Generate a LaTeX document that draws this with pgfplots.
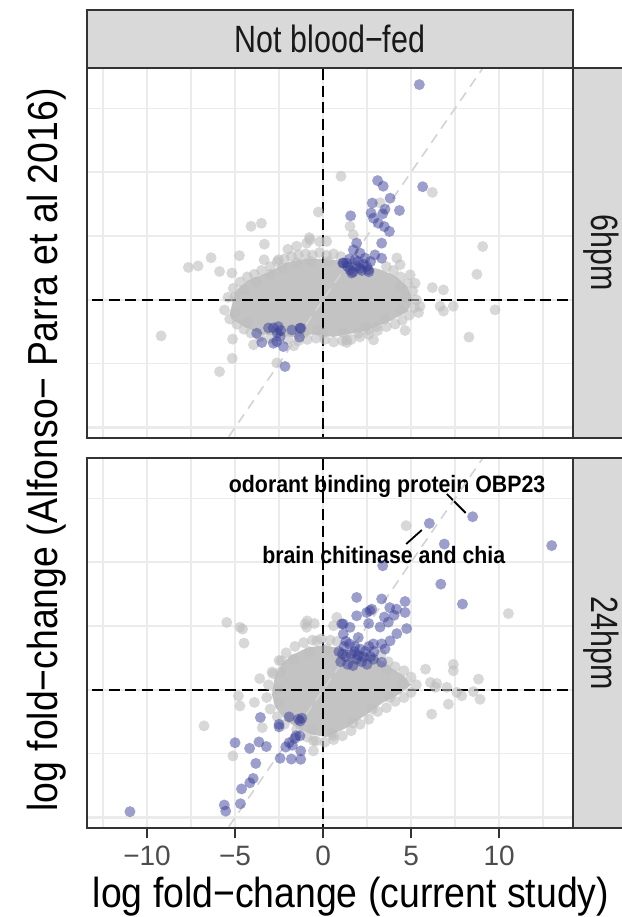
\documentclass[border=0pt]{standalone}
\usepackage{pgfplots}
\pgfplotsset{compat=1.18}
\usepackage{fontspec}
\setmainfont{Liberation Sans}
\newfontfamily\titlefont{Liberation Sans}[FakeStretch=0.89]
\newfontfamily\stripfont{Liberation Sans}[FakeStretch=0.8]
\newfontfamily\annfont{Liberation Sans}[FakeStretch=0.9]
\definecolor{gridc}{HTML}{EBEBEB}
\definecolor{bord}{HTML}{333333}
\definecolor{stripc}{HTML}{D9D9D9}
\definecolor{ptgrey}{HTML}{BEBEBE}
\definecolor{coregrey}{HTML}{C3C3C3}
\definecolor{ptblue}{RGB}{58,64,152}
\definecolor{diagc}{HTML}{D3D3D3}
\definecolor{tickc}{HTML}{4D4D4D}
\pgfplotsset{
  panel/.style={scale only axis, width=243pt, height=185pt, anchor=south west,
    xmin=-13.41, xmax=14.2, ymin=-5.41, ymax=9.08,
    xtick={-10,-5,0,5,10}, minor xtick={-12.5,-7.5,-2.5,2.5,7.5,12.5},
    ytick={-5,0,5}, minor ytick={-2.5,2.5,7.5},
    yticklabels={}, grid=both,
    major grid style={gridc, line width=1.3pt},
    minor grid style={gridc, line width=0.65pt},
    axis line style={draw=none},
    ytick style={draw=none}, minor tick length=0pt, clip=true},
  greypt/.style={only marks, mark=*, mark size=2.75pt, color=ptgrey, mark options={fill=ptgrey, fill opacity=0.6, draw opacity=0}},
  bluept/.style={only marks, mark=*, mark size=2.75pt, color=ptblue, mark options={fill=ptblue, fill opacity=0.5, draw opacity=0}},
  core/.style={fill=coregrey, draw=none, mark=none},
  zeroline/.style={black, line width=1pt, dash pattern=on 5.5pt off 2.8pt, mark=none},
  diagline/.style={diagc, line width=0.8pt, dash pattern=on 5pt off 3.5pt, mark=none},
}
\begin{document}
\begin{tikzpicture}
% ---------- top panel: 6hpm ----------
\begin{axis}[panel, at={(43.5pt,239.5pt)}, xticklabels={}, xtick style={draw=none}]
\addplot[core] coordinates {(-5.3,-0.55) (-5.0,0.3) (-4.3,0.75) (-3.2,1.05) (-2.1,1.45) (-1.1,1.6) (0,1.6) (0.8,1.55) (1.6,1.45) (3.2,1.2) (4.1,0.95) (4.8,0.5) (5.1,0.0) (4.8,-0.45) (3.9,-0.8) (2.5,-1.2) (0.6,-1.45) (-0.6,-1.35) (-1.7,-1.45) (-3.5,-1.35) (-4.6,-1.0) (-5.2,-0.75)} -- cycle;
\addplot[greypt] coordinates {
(1.02,4.84) (-0.27,3.44) (-4.09,2.88) (-3.5,3.0) (-3.33,2.18) (-0.78,2.44) (-0.19,2.28) (-2.0,1.98) (-1.5,2.1) (-4.75,1.73) (-6.36,1.65) (-7.65,1.27) (-7.1,1.33) (-5.88,1.11) (-5.18,1.05) (-3.35,1.57) (-2.53,1.57) (-9.2,-1.41) (-5.88,-2.81) (-5.16,-2.29) (-5.14,-1.54) (-3.95,-1.76) (-2.63,-2.47) (1.35,-1.67) (2.87,-1.57) (-0.33,-1.18) (-1.66,-1.8)
(6.21,4.21) (9.07,2.09) (8.74,1.0) (6.21,0.48) (6.84,0.39) (6.65,-0.25) (7.4,-0.25) (6.84,-0.44) (9.77,-0.39) (8.29,-1.46) (5.51,-0.25) (5.42,-0.5) (4.66,-1.2) (4.19,1.64) (4.38,1.38) (4.95,0.98) (5.23,0.65) (3.24,3.8) (1.53,2.88) (1.72,2.55) (-0.93,2.22) (-0.74,2.35) (0.21,2.29) (1.34,-1.57) (2.01,-1.31) (3.05,-1.05) (2.58,-1.18)
(-5.6,-0.4) (-5.4,0.1) (-5.1,0.45) (-4.7,0.7) (-4.3,0.9) (-3.9,1.0) (-3.5,1.15) (-3.0,1.3) (-2.6,1.5) (-2.2,1.6) (-1.8,1.7) (-1.4,1.75) (-1.0,1.8) (-0.6,1.75) (-0.2,1.85) (0.2,1.75) (0.6,1.8) (1.0,1.7) (3.6,1.3) (4.0,1.15) (4.4,0.9) (4.8,0.65) (5.1,0.35) (5.3,0.0) (5.2,-0.3) (4.9,-0.6) (4.5,-0.8) (4.1,-0.95) (3.6,-1.05) (3.1,-1.2) (2.6,-1.35) (2.1,-1.45) (1.6,-1.55) (1.1,-1.6) (0.6,-1.65) (0.1,-1.55) (-0.4,-1.5) (-0.9,-1.55) (-1.4,-1.6) (-2.0,-1.55) (-3.0,-1.5) (-3.6,-1.45) (-4.1,-1.3) (-4.5,-1.15) (-4.9,-0.95) (-5.3,-0.75)
(-5.0,0.1) (-4.5,0.4) (-3.8,0.7) (-3.0,1.0) (-2.3,1.25) (-1.5,1.45) (-0.7,1.5) (0.3,1.5) (4.4,0.5) (4.7,0.1) (4.4,-0.4) (3.5,-0.75) (2.4,-1.05) (1.2,-1.3) (0.0,-1.3) (-1.1,-1.3) (-4.3,-0.9) (-5.0,-0.5)
};
\addplot[bluept] coordinates {
(5.47,8.43) (3.1,4.67) (3.42,4.45) (5.66,4.43) (3.81,3.98) (2.8,3.79) (3.52,3.55) (4.34,3.5) (1.57,3.29) (2.73,3.4) (2.86,3.2) (3.39,3.37) (3.14,3.0) (3.48,2.87) (3.77,2.68) (3.33,2.22) (1.91,2.22) (1.72,1.96) (2.95,1.76) (3.33,1.63) (2.39,1.63) (1.16,1.44) (1.53,1.18) (1.91,1.31) (2.2,1.15) (2.58,1.18) (1.82,1.57) (2.1,1.83) (1.35,1.44) (1.63,1.05) (2.1,1.24) (2.48,1.31) (1.12,1.44) (1.4,1.3) (1.7,1.1) (2.3,1.4) (2.7,1.5) (1.5,1.6) (2.0,1.5) (2.6,1.1)
(-3.77,-1.31) (-3.48,-1.67) (-2.82,-1.1) (-2.54,-1.05) (-2.44,-1.44) (-2.63,-1.63) (-2.25,-1.83) (-1.77,-1.18) (-1.26,-1.11) (-1.34,-1.46) (-2.16,-2.61) (-2.82,-1.7) (-3.1,-1.1) (-2.6,-1.3) (-2.4,-1.2) (-1.31,-1.11)
};
\addplot[diagline] coordinates {(-7,-7) (11,11)};
\addplot[zeroline] coordinates {(0,-7) (0,11)};
\addplot[zeroline] coordinates {(-15,0) (15,0)};
\end{axis}
% ---------- bottom panel: 24hpm ----------
\begin{axis}[panel, at={(43.5pt,44.5pt)}, xtick pos=bottom, xtick align=outside,
  major tick length=5pt, xtick style={bord, line width=1.1pt},
  xticklabels={−10,−5,0,5,10},
  xticklabel style={font=\fontsize{14}{17}\selectfont, text=tickc, yshift=-0.5pt}]
\addplot[core] coordinates {(-2.9,-0.2) (-2.75,0.5) (-2.3,1.05) (-1.8,1.35) (-0.9,1.65) (0,1.75) (0.8,1.65) (2.0,1.5) (3.0,1.3) (3.9,0.85) (4.6,0.55) (5.0,0.2) (4.4,-0.15) (3.4,-0.5) (2.4,-1.0) (1.3,-1.5) (0.2,-1.85) (-0.6,-1.75) (-1.2,-1.6) (-2.0,-1.25) (-2.7,-0.7)} -- cycle;
\addplot[greypt] coordinates {
(4.72,6.43) (10.53,2.99) (7.4,1.0) (7.4,0.75) (8.83,0.42) (6.46,0.25) (7.03,0.1) (7.88,-0.23) (7.6,-0.1) (6.17,-0.95) (7.12,-0.56) (8.92,-0.37) (8.54,-0.07) (5.82,0.81) (6.1,0.29) (6.38,0.1) (-5.47,2.64) (-4.72,2.45) (-4.57,2.38) (-4.49,1.83) (-1.02,2.58) (-0.93,2.45) (-6.76,-1.41) (-5.12,-2.59) (-4.81,-0.24) (-4.72,-0.63) (-3.9,-0.49) (-3.6,0.44) (-2.84,0.63) (-2.37,1.14) (0.78,2.84) (0.59,2.51) (-0.36,1.92) (-3.45,-1.48) (-0.55,-1.99) (0.59,-1.8) (-0.55,-2.39) (-0.9,2.7) (-0.5,2.6)
(-3.2,-0.3) (-3.1,0.2) (-2.9,0.7) (-2.5,1.15) (-2.1,1.45) (-1.6,1.7) (-1.1,1.85) (-0.6,1.95) (-0.1,2.0) (0.4,1.95) (0.8,1.9) (3.3,1.4) (3.7,1.1) (4.1,0.9) (4.6,0.75) (5.0,0.5) (5.3,0.2) (5.0,-0.1) (4.6,-0.3) (4.1,-0.45) (3.6,-0.7) (3.1,-0.85) (2.6,-1.15) (2.1,-1.35) (1.6,-1.6) (1.1,-1.8) (0.6,-1.95) (0.1,-2.05) (-0.4,-2.0) (-0.9,-1.85) (-1.5,-1.55) (-2.2,-1.35) (-2.6,-1.05) (-3.0,-0.75)
(-2.6,0.0) (-2.4,0.7) (-1.7,1.2) (-0.8,1.5) (0.2,1.6) (3.6,0.8) (4.5,0.25) (3.8,-0.3) (2.8,-0.75) (1.7,-1.3) (0.5,-1.7) (-0.6,-1.55) (-1.8,-1.1) (-2.5,-0.5)
};
\addplot[bluept] coordinates {
(-10.97,-4.77) (-5.61,-4.51) (-5.53,-4.75) (-4.69,-4.46) (-4.63,-3.88) (-4.16,-3.64) (-3.97,-3.47) (-3.82,-2.88) (-5.0,-2.07) (-4.17,-2.29) (-3.64,-2.04) (-3.22,-2.22) (-3.56,-1.08) (-2.5,-1.35) (-1.93,-1.06) (-1.4,-1.15) (-1.2,-1.11) (-1.53,-1.8) (-1.93,-2.07) (-2.12,-2.24) (-1.74,-2.17) (-1.27,-2.39) (-2.44,-2.68) (-1.8,-2.71) (-1.27,-2.72) (-2.5,-1.45) (-1.6,-1.9) (-1.3,-1.22) (-1.31,-1.8)
(8.5,6.78) (6.04,6.52) (6.89,5.71) (12.99,5.65) (3.39,4.86) (6.69,4.14) (7.92,3.36) (1.91,3.62) (3.33,3.56) (4.66,3.46) (2.67,3.1) (3.79,3.22) (4.17,3.16) (4.66,3.03) (3.48,2.85) (3.71,2.65) (4.04,2.92) (4.75,2.4) (4.19,2.2) (3.24,2.46) (1.06,2.58) (1.53,2.45) (3.81,1.92) (3.33,1.8) (3.52,1.6) (3.33,1.08) (2.86,1.2) (1.91,2.9) (2.48,3.03) (2.77,3.16) (2.59,2.6) (1.15,2.58) (1.15,2.18) (2.0,2.05) (2.86,1.8)
(0.9,1.5) (1.2,1.7) (1.5,1.8) (1.8,1.7) (2.1,1.6) (2.4,1.5) (2.7,1.3) (1.0,1.1) (1.3,1.3) (1.6,1.4) (1.9,1.2) (2.2,1.1) (2.5,1.0) (1.4,1.0) (1.7,0.95) (2.0,1.35) (2.3,1.3) (1.1,1.4) (2.6,1.7) (1.8,1.5) (2.9,1.5) (1.3,1.9)
};
\node[font=\annfont\bfseries\fontsize{11.85}{14}\selectfont, anchor=base] at (axis cs:3.64,7.74) {odorant binding protein OBP23};
\node[font=\annfont\bfseries\fontsize{11.85}{14}\selectfont, anchor=base] at (axis cs:3.45,4.93) {brain chitinase and chia};
\addplot[black, line width=0.9pt, mark=none] coordinates {(7.03,7.67) (8.1,6.93)};
\addplot[black, line width=0.9pt, mark=none] coordinates {(4.72,5.71) (5.61,6.26)};
\addplot[diagline] coordinates {(-7,-7) (11,11)};
\addplot[zeroline] coordinates {(0,-7) (0,11)};
\addplot[zeroline] coordinates {(-15,0) (15,0)};
\end{axis}
% ---------- borders and strips ----------
\draw[bord, line width=1pt] (43.5pt,239.5pt) rectangle (286.5pt,424.5pt);
\draw[bord, line width=1pt] (43.5pt,44.5pt) rectangle (286.5pt,229.5pt);
\filldraw[fill=stripc, draw=bord, line width=1pt] (43.5pt,424.5pt) rectangle (286.5pt,453.5pt);
\filldraw[fill=stripc, draw=bord, line width=1pt] (286.5pt,239.5pt) rectangle (315.5pt,424.5pt);
\filldraw[fill=stripc, draw=bord, line width=1pt] (286.5pt,44.5pt) rectangle (315.5pt,229.5pt);
\node[font=\stripfont\fontsize{19}{23}\selectfont, text=black!90] at (165pt,439pt) {Not blood−fed};
\node[font=\stripfont\fontsize{19}{23}\selectfont, text=black!90, rotate=-90] at (300.5pt,332pt) {6hpm};
\node[font=\stripfont\fontsize{19}{23}\selectfont, text=black!90, rotate=-90] at (300.5pt,137pt) {24hpm};
\node[font=\titlefont\fontsize{21}{25}\selectfont, anchor=base] at (175.5pt,4.6pt) {log fold−change (current study)};
\node[font=\titlefont\fontsize{21}{25}\selectfont, anchor=base, rotate=90] at (28.5pt,233.5pt) {log fold−change (Alfonso− Parra et al 2016)};
\pgfresetboundingbox
\useasboundingbox (0,0) rectangle (311pt,458.5pt);
\end{tikzpicture}
\end{document}
